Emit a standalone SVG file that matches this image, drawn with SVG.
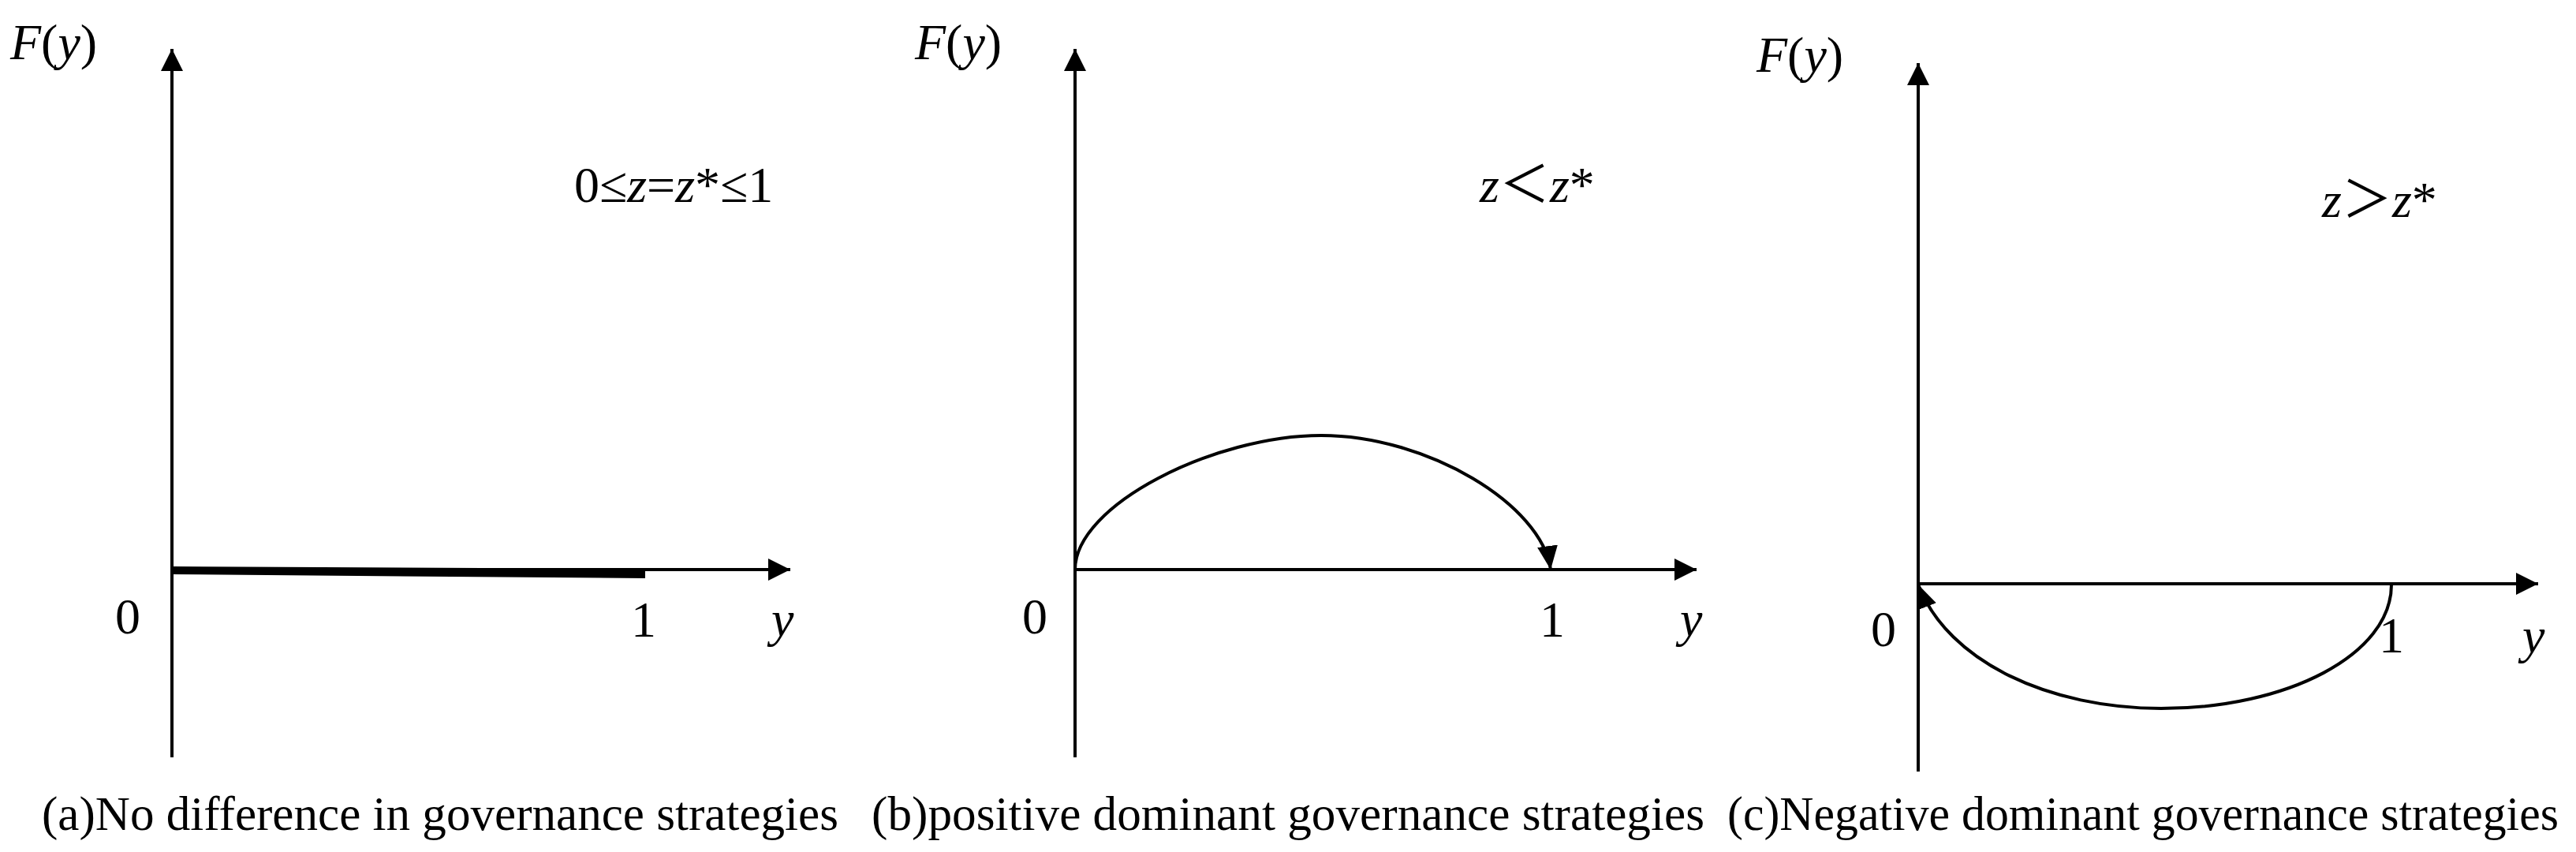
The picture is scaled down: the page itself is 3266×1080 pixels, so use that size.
<svg xmlns="http://www.w3.org/2000/svg" width="3266" height="1080" viewBox="0 0 3266 1080">
<style>
.ax{stroke:#000;stroke-width:4;fill:none}
.cv{stroke:#000;stroke-width:4;fill:none}
.t{font-family:"Liberation Serif","Times New Roman",serif;font-size:64px;fill:#000}
.cap{font-family:"Liberation Serif","Times New Roman",serif;font-size:62px;fill:#000}
.i{font-style:italic}
.cjk{font-family:"Liberation Serif","Noto Sans CJK SC",serif}
</style>
<defs>
<marker id="ah" markerUnits="userSpaceOnUse" markerWidth="30" markerHeight="30" refX="28" refY="14" orient="auto" viewBox="0 0 30 30">
<path d="M0,0 L28,14 L0,28 z" fill="#000"/>
</marker>
<marker id="ch" markerUnits="userSpaceOnUse" markerWidth="32" markerHeight="30" refX="30" refY="13" orient="auto" viewBox="0 0 32 30">
<path d="M0,0 L30,13 L0,26 z" fill="#000"/>
</marker>
</defs>
<rect width="3266" height="1080" fill="#fff"/>

<g id="panel-a">
<line class="ax" x1="218" y1="960" x2="218" y2="62" marker-end="url(#ah)"/>
<line class="ax" x1="218" y1="722" x2="1002" y2="722" marker-end="url(#ah)"/>
<polygon points="219,718 818,721 818,733 219,728" fill="#000"/>
<text class="t" x="13" y="75"><tspan class="i">F</tspan>(<tspan class="i">y</tspan>)</text>
<text class="t" x="146" y="803">0</text>
<text class="t" x="800" y="807">1</text>
<text class="t i" x="978" y="806">y</text>
<text class="t" x="728" y="256">0≤<tspan class="i">z</tspan>=<tspan class="i">z</tspan>*≤1</text>
<text class="cap" x="53" y="1052" textLength="1010" lengthAdjust="spacingAndGlyphs">(a)No difference in governance strategies</text>
</g>

<g id="panel-b">
<line class="ax" x1="1363" y1="960" x2="1363" y2="62" marker-end="url(#ah)"/>
<line class="ax" x1="1363" y1="722" x2="2151" y2="722" marker-end="url(#ah)"/>
<text class="t" x="1160" y="75"><tspan class="i">F</tspan>(<tspan class="i">y</tspan>)</text>
<text class="t" x="1296" y="803">0</text>
<text class="t" x="1952" y="807">1</text>
<text class="t i" x="2130" y="806">y</text>
<text class="t cjk" x="1876" y="256"><tspan class="i">z</tspan>＜<tspan class="i">z</tspan>*</text>
<text class="cap" x="1105" y="1052" textLength="1056" lengthAdjust="spacingAndGlyphs">(b)positive dominant governance strategies</text>
</g>

<g id="panel-c">
<line class="ax" x1="2432" y1="978" x2="2432" y2="80" marker-end="url(#ah)"/>
<line class="ax" x1="2432" y1="740" x2="3218" y2="740" marker-end="url(#ah)"/>
<text class="t" x="2227" y="91"><tspan class="i">F</tspan>(<tspan class="i">y</tspan>)</text>
<text class="t" x="2372" y="819">0</text>
<text class="t" x="3016" y="827">1</text>
<text class="t i" x="3198" y="827">y</text>
<text class="t cjk" x="2944" y="275"><tspan class="i">z</tspan>＞<tspan class="i">z</tspan>*</text>
<text class="cap" x="2190" y="1052" textLength="1054" lengthAdjust="spacingAndGlyphs">(c)Negative dominant governance strategies</text>
</g>

<g id="connectors">
<path class="cv" d="M1363,722 C1363,640 1540,552 1675,552 C1810,552 1955,640 1966,722" marker-end="url(#ch)"/>
<path class="cv" d="M3032,741 C3032,830 2900,898 2740,898 C2600,898 2470,840 2432,741" marker-end="url(#ch)"/>
</g>
</svg>
